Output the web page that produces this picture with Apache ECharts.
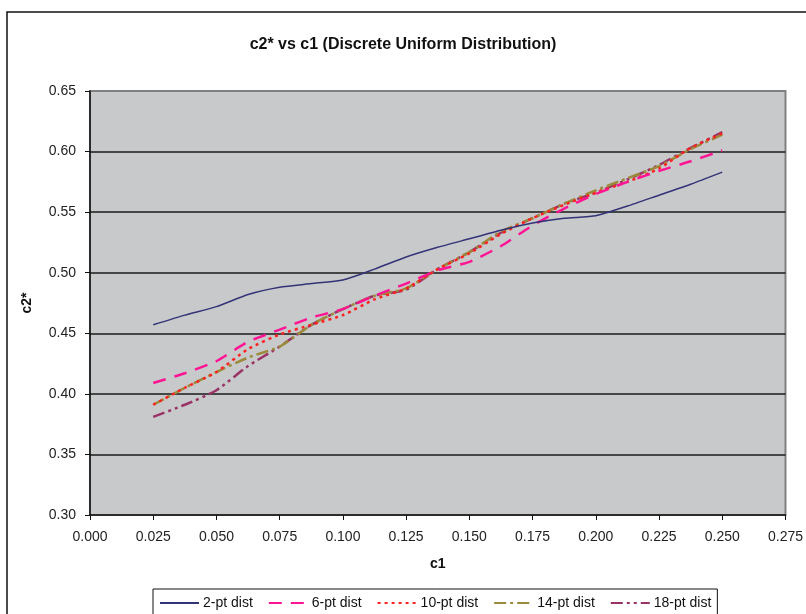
<!DOCTYPE html>
<html>
<head>
<meta charset="utf-8">
<script src="https://cdn.jsdelivr.net/npm/echarts@6/dist/echarts.min.js"></script>
<style>html,body{margin:0;padding:0;background:#fff}#c{width:806px;height:614px}</style>
</head>
<body>
<div id="c"></div>
<script>
const c1 = [0.025, 0.0375, 0.05, 0.0625, 0.075, 0.0875, 0.1, 0.1125, 0.125, 0.1375, 0.15, 0.1625, 0.175, 0.1875, 0.2, 0.2125, 0.225, 0.2375, 0.25];
const pt2  = [0.457, 0.465, 0.472, 0.482, 0.488, 0.491, 0.494, 0.503, 0.513, 0.521, 0.528, 0.535, 0.541, 0.545, 0.547, 0.555, 0.564, 0.573, 0.583];
const pt6  = [0.409, 0.417, 0.427, 0.443, 0.453, 0.463, 0.470, 0.481, 0.491, 0.502, 0.509, 0.522, 0.539, 0.553, 0.565, 0.575, 0.584, 0.592, 0.601];
const pt10 = [0.391, 0.405, 0.418, 0.437, 0.449, 0.457, 0.465, 0.478, 0.487, 0.503, 0.516, 0.532, 0.545, 0.556, 0.566, 0.575, 0.586, 0.603, 0.615];
const pt14 = [0.391, 0.405, 0.418, 0.430, 0.439, 0.457, 0.470, 0.481, 0.487, 0.503, 0.517, 0.534, 0.545, 0.557, 0.568, 0.578, 0.588, 0.602, 0.614];
const pt18 = [0.381, 0.391, 0.403, 0.423, 0.439, 0.457, 0.470, 0.481, 0.486, 0.503, 0.517, 0.533, 0.545, 0.557, 0.566, 0.577, 0.589, 0.603, 0.616];
const seriesNames = ['2-pt dist', '6-pt dist', '10-pt dist', '14-pt dist', '18-pt dist'];
const titleText = 'c2* vs c1 (Discrete Uniform Distribution)';

const pairs = ys => c1.map((x, i) => [x, ys[i]]);
const FONT = 'Arial, "Liberation Sans", sans-serif';

const chart = echarts.init(document.getElementById('c'), null, {renderer: 'canvas'});
const styles = [
  {color: '#333377', width: 1.5, type: 'solid'},
  {color: '#FF1493', width: 2.5, type: [13, 9]},
  {color: '#FF2222', width: 2.5, type: [3, 4]},
  {color: '#9A8A3A', width: 2.5, type: [12, 4, 3, 4]},
  {color: '#993366', width: 2.5, type: [12, 4, 3, 4, 3, 4]}
];
const data = [pt2, pt6, pt10, pt14, pt18];

chart.setOption({
  animation: false,
  backgroundColor: '#fff',
  graphic: [{
    type: 'rect', z: -1,
    shape: {x: 7, y: 12, width: 820, height: 700},
    style: {fill: 'none', stroke: '#111', lineWidth: 1.5}
  }],
  title: {
    text: titleText, left: 'center', top: 32,
    textStyle: {fontFamily: FONT, fontSize: 16, fontWeight: 'bold', color: '#111'}
  },
  legend: {
    left: 153, top: 589,
    data: seriesNames,
    itemWidth: 39, itemHeight: 14, itemGap: 15,
    padding: [7, 6, 7, 6],
    borderColor: '#111', borderWidth: 1,
    itemStyle: {opacity: 0},
    textStyle: {fontFamily: FONT, fontSize: 14, color: '#111', padding: [0, 0, 0, -1]}
  },
  grid: {
    left: 90, top: 91, width: 696, height: 424,
    show: true, backgroundColor: '#C8C9CB', borderColor: '#808080', borderWidth: 2
  },
  xAxis: {
    type: 'value', min: 0, max: 0.275, interval: 0.025,
    name: 'c1', nameLocation: 'middle', nameGap: 42,
    nameTextStyle: {fontFamily: FONT, fontSize: 14, fontWeight: 'bold', color: '#111'},
    axisLine: {show: true, lineStyle: {color: '#111', width: 1.5}},
    axisTick: {show: true, inside: false, length: 5, lineStyle: {color: '#111'}},
    axisLabel: {fontFamily: FONT, fontSize: 14, color: '#222', margin: 15, formatter: v => v.toFixed(3)},
    splitLine: {show: false}
  },
  yAxis: {
    type: 'value', min: 0.30, max: 0.65, interval: 0.05,
    name: 'c2*', nameLocation: 'middle', nameGap: 56, nameRotate: 90,
    nameTextStyle: {fontFamily: FONT, fontSize: 14, fontWeight: 'bold', color: '#111'},
    axisLine: {show: true, lineStyle: {color: '#111', width: 1.5}},
    axisTick: {show: true, inside: false, length: 5, lineStyle: {color: '#111'}},
    axisLabel: {fontFamily: FONT, fontSize: 14, color: '#222', margin: 14, formatter: v => v.toFixed(2)},
    splitLine: {show: true, showMinLine: false, showMaxLine: false, lineStyle: {color: '#1a1a1a', width: 1.5}}
  },
  series: seriesNames.map((n, i) => ({
    name: n, type: 'line', data: pairs(data[i]),
    symbol: 'none', showSymbol: false, smooth: 0.2,
    lineStyle: styles[i], itemStyle: {color: styles[i].color},
    z: 10 - i
  }))
});
</script>
</body>
</html>
